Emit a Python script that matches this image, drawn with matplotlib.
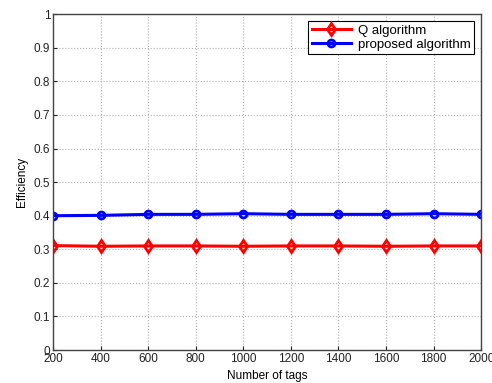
import matplotlib
matplotlib.use("Agg")
import matplotlib.pyplot as plt
import numpy as np

plt.rcParams['font.family'] = ['Liberation Sans', 'DejaVu Sans']

tags = [200, 400, 600, 800, 1000, 1200, 1400, 1600, 1800, 2000]
q_alg = [0.311, 0.309, 0.310, 0.310, 0.309, 0.310, 0.310, 0.309, 0.310, 0.310]
proposed = [0.400, 0.401, 0.404, 0.404, 0.406, 0.404, 0.404, 0.404, 0.406, 0.404]
yticks = [0, 0.1, 0.2, 0.3, 0.4, 0.5, 0.6, 0.7, 0.8, 0.9, 1]
ytick_labels = ['0', '0.1', '0.2', '0.3', '0.4', '0.5', '0.6', '0.7', '0.8', '0.9', '1']

fig = plt.figure(figsize=(4.92, 3.83), dpi=100)
ax = fig.add_axes([0.108, 0.086, 0.870, 0.877])

ax.plot(tags, q_alg, color='red', lw=2.2, marker='d', ms=6, mfc='none', mew=2.0,
        label='Q algorithm')
ax.plot(tags, proposed, color='blue', lw=2.2, marker='o', ms=5, mfc='none', mew=2.0,
        label='proposed algorithm')

ax.set_xlim(200, 2000)
ax.set_ylim(0, 1)
ax.set_xticks(tags)
ax.set_yticks(yticks)
ax.set_yticklabels(ytick_labels)
ax.tick_params(labelsize=8.5, direction='in', length=3, colors='#222222', pad=2)
ax.grid(True, linestyle=':', color='#b0b0b0', lw=0.8)
for s in ax.spines.values():
    s.set_color('#444444')
    s.set_linewidth(1.0)
ax.set_xlabel('Number of tags', fontsize=8.5, labelpad=4)
ax.set_ylabel('Efficiency', fontsize=8.5, labelpad=4)

leg = ax.legend(loc='upper right', fontsize=9.5, frameon=True, fancybox=False,
                edgecolor='black', framealpha=1, borderpad=0.25, labelspacing=0.1,
                handlelength=3.0, handletextpad=0.5, borderaxespad=0.55)
leg.get_frame().set_linewidth(0.8)

fig.savefig('out.png', dpi=100)
